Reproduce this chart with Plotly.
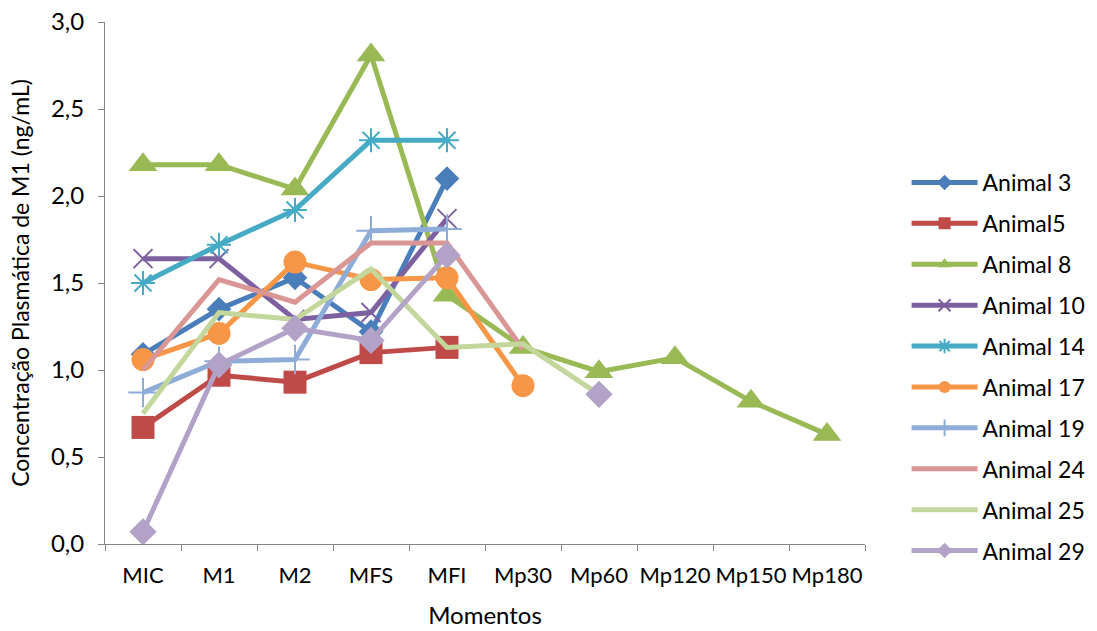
import plotly.graph_objects as go

categories = ["MIC", "M1", "M2", "MFS", "MFI", "Mp30", "Mp60", "Mp120", "Mp150", "Mp180"]

animal_3 = [1.09, 1.35, 1.53, 1.22, 2.10, None, None, None, None, None]
animal_5 = [0.67, 0.97, 0.93, 1.10, 1.13, None, None, None, None, None]
animal_8 = [2.18, 2.18, 2.04, 2.81, 1.43, 1.13, 0.99, 1.07, 0.82, 0.63]
animal_10 = [1.64, 1.64, 1.29, 1.33, 1.87, None, None, None, None, None]
animal_14 = [1.50, 1.72, 1.92, 2.32, 2.32, None, None, None, None, None]
animal_17 = [1.06, 1.21, 1.62, 1.52, 1.53, 0.91, None, None, None, None]
animal_19 = [0.87, 1.05, 1.06, 1.80, 1.81, None, None, None, None, None]
animal_24 = [1.00, 1.52, 1.39, 1.73, 1.73, 1.12, None, None, None, None]
animal_25 = [0.75, 1.33, 1.29, 1.58, 1.13, 1.15, 0.86, None, None, None]
animal_29 = [0.07, 1.03, 1.24, 1.17, 1.66, None, 0.86, None, None, None]

series_names = ["Animal 3", "Animal5", "Animal 8", "Animal 10", "Animal 14",
                "Animal 17", "Animal 19", "Animal 24", "Animal 25", "Animal 29"]
series_values = [animal_3, animal_5, animal_8, animal_10, animal_14,
                 animal_17, animal_19, animal_24, animal_25, animal_29]
colors = ["#4A7EBB", "#BE4B48", "#98B954", "#7D60A0", "#46AAC5",
          "#F79646", "#8EACD8", "#D99694", "#C3D69B", "#B3A2C7"]
symbols = ["diamond", "square", "triangle-up", "x-thin", "asterisk",
           "circle", "cross-thin", None, None, "diamond"]
sizes = [19, 23, 25, 19, 20, 23, 21, 0, 0, 21]

fig = go.Figure()
for i, (name, vals) in enumerate(zip(series_names, series_values)):
    sym = symbols[i]
    if sym is None:
        mode = "lines"
        marker = None
    else:
        mode = "lines+markers"
        thin = sym in ("x-thin", "asterisk", "cross-thin")
        marker = dict(symbol=sym, size=sizes[i], color=colors[i],
                      line=dict(color=colors[i], width=2 if thin else 0))
    fig.add_trace(go.Scatter(
        x=categories, y=vals, name=name, mode=mode,
        line=dict(color=colors[i], width=5),
        marker=marker, connectgaps=False, legendgroup=name,
    ))

font_family = "Lato, Open Sans, sans-serif"
fig.update_layout(
    width=1097, height=631,
    margin=dict(l=105, r=232, t=22, b=87, autoexpand=False),
    paper_bgcolor="white", plot_bgcolor="white",
    separators=",.",
    font=dict(family=font_family, size=22, color="#000000"),
    showlegend=True,
    legend=dict(x=1.0547, y=0.34, xanchor="left", yanchor="middle",
                font=dict(size=23), itemwidth=66, tracegroupgap=8,
                itemsizing="constant",
                bgcolor="rgba(0,0,0,0)"),
    xaxis=dict(
        type="category", range=[-0.5, 9.5], showgrid=False,
        showline=True, linecolor="#868686", linewidth=1,
        ticks="outside", tickson="boundaries", ticklen=6, tickcolor="#868686",
        ticklabelstandoff=12, tickfont=dict(size=22), tickangle=0,
        automargin=False,
        title=dict(text="Momentos", standoff=19, font=dict(size=24)),
    ),
    yaxis=dict(
        range=[0, 3], dtick=0.5, tickformat=".1f", showgrid=False,
        showline=True, linecolor="#868686", linewidth=1,
        ticks="outside", ticklen=6, tickcolor="#868686",
        ticklabelstandoff=9, zeroline=False, tickfont=dict(size=24),
        automargin=False,
        title=dict(text="Concentração Plasmática de M1 (ng/mL)", standoff=14, font=dict(size=23)),
    ),
)

fig.write_html("out.html")
